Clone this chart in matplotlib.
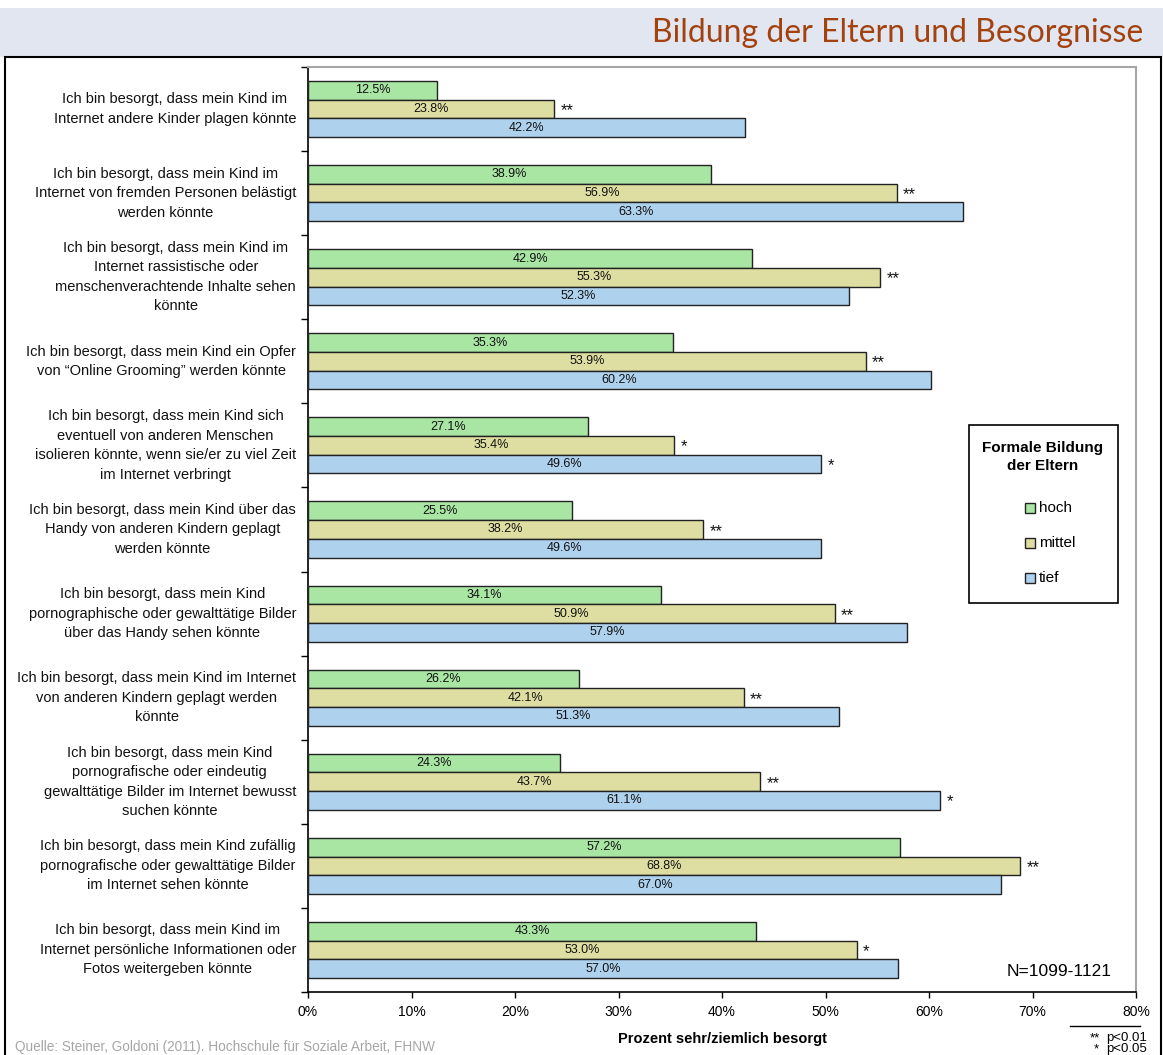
import matplotlib
matplotlib.use("Agg")
import matplotlib.pyplot as plt
from matplotlib.patches import Rectangle
from matplotlib.lines import Line2D
from matplotlib.transforms import blended_transform_factory

# ---- data -------------------------------------------------------------
categories = [
    "Ich bin besorgt, dass mein Kind im\nInternet andere Kinder plagen könnte",
    "Ich bin besorgt, dass mein Kind im\nInternet von fremden Personen belästigt\nwerden könnte",
    "Ich bin besorgt, dass mein Kind im\nInternet rassistische oder\nmenschenverachtende Inhalte sehen\nkönnte",
    "Ich bin besorgt, dass mein Kind ein Opfer\nvon \u201cOnline Grooming\u201d werden könnte",
    "Ich bin besorgt, dass mein Kind sich\neventuell von anderen Menschen\nisolieren könnte, wenn sie/er zu viel Zeit\nim Internet verbringt",
    "Ich bin besorgt, dass mein Kind über das\nHandy von anderen Kindern geplagt\nwerden könnte",
    "Ich bin besorgt, dass mein Kind\npornographische oder gewalttätige Bilder\nüber das Handy sehen könnte",
    "Ich bin besorgt, dass mein Kind im Internet\nvon anderen Kindern geplagt werden\nkönnte",
    "Ich bin besorgt, dass mein Kind\npornografische oder eindeutig\ngewalttätige Bilder im Internet bewusst\nsuchen könnte",
    "Ich bin besorgt, dass mein Kind zufällig\npornografische oder gewalttätige Bilder\nim Internet sehen könnte",
    "Ich bin besorgt, dass mein Kind im\nInternet persönliche Informationen oder\nFotos weitergeben könnte",
]
hoch = [12.5, 38.9, 42.9, 35.3, 27.1, 25.5, 34.1, 26.2, 24.3, 57.2, 43.3]
mittel = [23.8, 56.9, 55.3, 53.9, 35.4, 38.2, 50.9, 42.1, 43.7, 68.8, 53.0]
tief = [42.2, 63.3, 52.3, 60.2, 49.6, 49.6, 57.9, 51.3, 61.1, 67.0, 57.0]
sig_mittel = ["**", "**", "**", "**", "*", "**", "**", "**", "**", "**", "*"]
sig_tief = ["", "", "", "", "*", "", "", "", "*", "", ""]

series_names = ["hoch", "mittel", "tief"]
series_colors = ["#A9E6A4", "#DEDEA2", "#AED1EE"]
xticks = [0, 10, 20, 30, 40, 50, 60, 70, 80]

# ---- figure -----------------------------------------------------------
W, H = 1163, 1055
fig = plt.figure(figsize=(W / 100, H / 100), dpi=100)
plt.rcParams["font.family"] = ["Liberation Sans", "DejaVu Sans"]

def fx(px):
    return px / W

def fy(py):
    return 1 - py / H

# header band and title
fig.patches.append(Rectangle((0, fy(57)), 1, fy(8) - fy(57), transform=fig.transFigure,
                             facecolor="#E1E6F1", edgecolor="none", zorder=0))
fig.text(fx(1143), fy(33), "Bildung der Eltern und Besorgnisse", ha="right", va="center",
         fontsize=23, color="#A3420F", family=["Lato", "DejaVu Sans"])

# outer frame
fig.patches.append(Rectangle((fx(5), -0.01), fx(1161) - fx(5), fy(57) + 0.01,
                             transform=fig.transFigure, facecolor="none",
                             edgecolor="black", linewidth=1.5, zorder=1))

# plot area
left, right, top, bottom = 308, 1136, 67, 992
ax = fig.add_axes([fx(left), fy(bottom), fx(right) - fx(left), fy(top) - fy(bottom)])

n = len(categories)
h = 0.222
ys = list(range(n))
series = [hoch, mittel, tief]
for k, (vals, col, name) in enumerate(zip(series, series_colors, series_names)):
    pos = [y + (k - 1) * h for y in ys]
    bars = ax.barh(pos, vals, height=h, color=col, edgecolor="#222222",
                   linewidth=1.0, label=name, zorder=3)
    for b, v in zip(bars, vals):
        ax.text(v / 2, b.get_y() + h / 2, f"{v:.1f}%", ha="center", va="center",
                fontsize=9, color="#111111", zorder=4)
    if k == 1:
        marks = sig_mittel
    elif k == 2:
        marks = sig_tief
    else:
        marks = [""] * n
    for b, v, m in zip(bars, vals, marks):
        if m:
            ax.text(v + 0.6, b.get_y() + h / 2 + 0.02, m, ha="left", va="center",
                    fontsize=12, color="#111111", zorder=4)

ax.set_xlim(0, 80)
ax.set_ylim(n - 0.5, -0.5)
ax.set_xticks(xticks)
ax.set_xticklabels([f"{t}%" for t in xticks], fontsize=10)
ax.tick_params(axis="x", direction="out", length=4, width=1, pad=5, colors="black")
ax.set_yticks([i - 0.5 for i in range(n + 1)])
ax.set_yticklabels([])
ax.tick_params(axis="y", direction="out", length=5, width=1)
for s in ["top", "right"]:
    ax.spines[s].set_color("#A6A6A6")
    ax.spines[s].set_linewidth(1.5)
for s in ["left", "bottom"]:
    ax.spines[s].set_color("black")
    ax.spines[s].set_linewidth(1.2)

# category labels: blocks right-aligned next to the axis, lines centred
tr = blended_transform_factory(fig.transFigure, ax.transData)
for i, lab in enumerate(categories):
    ax.text(fx(296), i, lab, transform=tr, ha="right", va="center",
            multialignment="center", fontsize=10.5, linespacing=1.5, color="#111111")

fig.text(fx(1112), fy(971), "N=1099-1121", ha="right", va="center", fontsize=12.5)

# axis title and notes
fig.text(fx(722), fy(1039), "Prozent sehr/ziemlich besorgt", ha="center", va="center",
         fontsize=10.5, fontweight="bold")
fig.text(fx(15), fy(1047), "Quelle: Steiner, Goldoni (2011). Hochschule für Soziale Arbeit, FHNW",
         ha="left", va="center", fontsize=9.8, color="#A6A6A6")
fig.lines.append(Line2D([fx(1070), fx(1140)], [fy(1026), fy(1026)], transform=fig.transFigure,
                        color="black", linewidth=1))
fig.text(fx(1090), fy(1038), "**", ha="left", va="center", fontsize=9.5)
fig.text(fx(1106), fy(1038), "p<0.01", ha="left", va="center", fontsize=9.5)
fig.text(fx(1094), fy(1049), "*", ha="left", va="center", fontsize=9.5)
fig.text(fx(1106), fy(1049), "p<0.05", ha="left", va="center", fontsize=9.5)

# legend box
fig.patches.append(Rectangle((fx(969), fy(603)), fx(1118) - fx(969), fy(425) - fy(603),
                             transform=fig.transFigure, facecolor="white",
                             edgecolor="black", linewidth=1.2, zorder=5))
fig.text(fx(1043), fy(457), "Formale Bildung\nder Eltern", ha="center", va="center",
         fontsize=11, fontweight="bold", linespacing=1.3, zorder=6)
for j, (name, col) in enumerate(zip(series_names, series_colors)):
    yc = 508 + j * 35
    fig.patches.append(Rectangle((fx(1025), fy(yc + 5)), fx(1035) - fx(1025), fy(yc - 5) - fy(yc + 5),
                                 transform=fig.transFigure, facecolor=col,
                                 edgecolor="#222222", linewidth=1, zorder=6))
    fig.text(fx(1039), fy(yc), name, ha="left", va="center", fontsize=11, zorder=6)

fig.savefig("out.png", dpi=100)
